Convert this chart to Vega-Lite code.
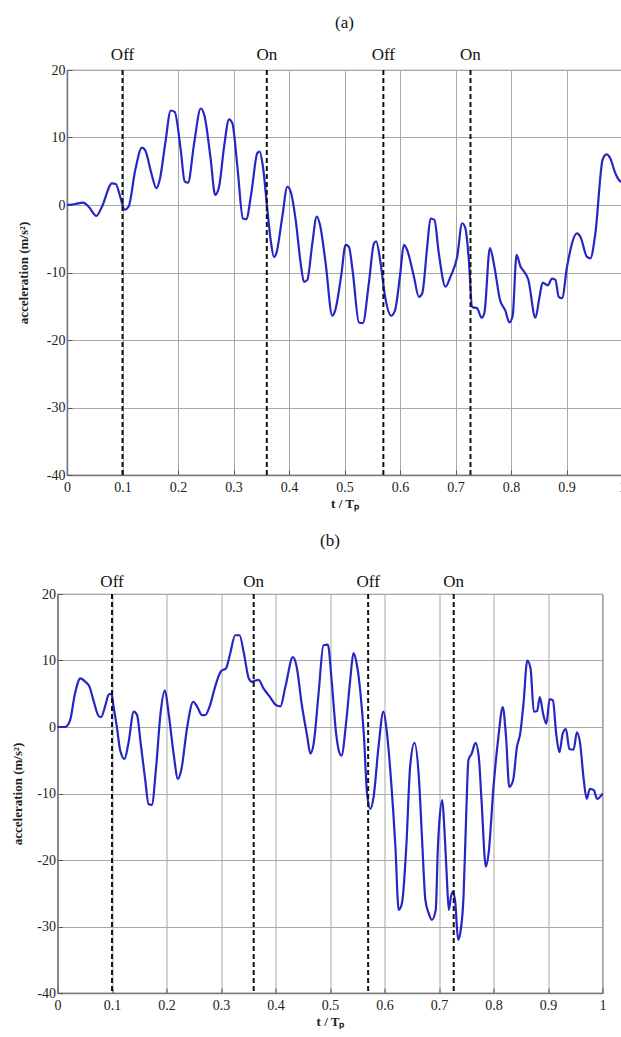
{
  "$schema": "https://vega.github.io/schema/vega-lite/v6.json",
  "padding": {"left": 10.5, "top": 13, "right": 0, "bottom": 0},
  "spacing": 20,
  "background": "white",
  "config": {
    "view": {"stroke": "#888", "strokeWidth": 1.2},
    "axis": {
      "labelFont": "Liberation Serif", "labelFontSize": 14, "labelColor": "#222",
      "titleFont": "Liberation Serif", "titleFontSize": 13, "titleFontWeight": "bold", "titleColor": "#222",
      "ticks": true, "tickSize": -5, "tickColor": "#555", "tickWidth": 1,
      "domainColor": "#7a7a7a", "domainWidth": 1.5,
      "gridColor": "#a8a8a8", "gridWidth": 1, "gridOpacity": 1,
      "labelFlush": false, "labelOverlap": false, "labelBound": false
    },
    "axisX": {"labelPadding": 10, "titlePadding": 3},
    "axisY": {"labelPadding": 7},
    "title": {"font": "Liberation Serif", "fontSize": 17, "fontWeight": "normal", "color": "#111"}
  },
  "datasets": {
    "switch": [
      {"t": 0.1, "label": "Off"}, {"t": 0.36, "label": "On"}, {"t": 0.57, "label": "Off"}, {"t": 0.727, "label": "On"}
    ],
    "none": [],
    "curve_a": [
      {"t":0,"a":0},{"t":0.015,"a":0.15},{"t":0.029,"a":0.35},{"t":0.039,"a":-0.25},{"t":0.053,"a":-1.6},{"t":0.063,"a":-0.25},
      {"t":0.081,"a":3.2},{"t":0.088,"a":3.1},{"t":0.096,"a":1.2},{"t":0.104,"a":-0.7},{"t":0.111,"a":-0.25},{"t":0.123,"a":5.2},
      {"t":0.135,"a":8.5},{"t":0.141,"a":8.1},{"t":0.152,"a":4.7},{"t":0.161,"a":2.5},{"t":0.167,"a":3.7},{"t":0.177,"a":9.1},
      {"t":0.187,"a":14.0},{"t":0.194,"a":13.8},{"t":0.205,"a":8.1},{"t":0.212,"a":3.5},{"t":0.218,"a":3.3},{"t":0.229,"a":9.1},
      {"t":0.241,"a":14.3},{"t":0.248,"a":13.1},{"t":0.259,"a":6.7},{"t":0.267,"a":1.5},{"t":0.274,"a":2.7},{"t":0.283,"a":8.6},
      {"t":0.292,"a":12.7},{"t":0.298,"a":12.1},{"t":0.307,"a":5.7},{"t":0.317,"a":-2.0},{"t":0.323,"a":-2.1},{"t":0.332,"a":1.7},
      {"t":0.343,"a":7.7},{"t":0.347,"a":7.9},{"t":0.353,"a":5.7},{"t":0.361,"a":-0.7},{"t":0.367,"a":-5.2},{"t":0.373,"a":-7.7},
      {"t":0.377,"a":-7.2},{"t":0.388,"a":-1.7},{"t":0.397,"a":2.7},{"t":0.403,"a":2.0},{"t":0.412,"a":-2.2},{"t":0.421,"a":-8.6},
      {"t":0.427,"a":-11.4},{"t":0.433,"a":-11.1},{"t":0.442,"a":-5.7},{"t":0.450,"a":-1.7},{"t":0.456,"a":-3.0},{"t":0.466,"a":-8.6},
      {"t":0.478,"a":-16.4},{"t":0.483,"a":-15.7},{"t":0.494,"a":-10.5},{"t":0.502,"a":-5.9},{"t":0.508,"a":-6.2},{"t":0.515,"a":-10},
      {"t":0.526,"a":-17.4},{"t":0.533,"a":-17.5},{"t":0.544,"a":-11.5},{"t":0.553,"a":-5.7},{"t":0.557,"a":-5.4},{"t":0.565,"a":-8.6},
      {"t":0.573,"a":-13.5},{"t":0.584,"a":-16.4},{"t":0.591,"a":-15.6},{"t":0.600,"a":-10.5},{"t":0.607,"a":-5.9},{"t":0.613,"a":-6.7},
      {"t":0.625,"a":-10.6},{"t":0.634,"a":-13.6},{"t":0.640,"a":-13.1},{"t":0.649,"a":-6.2},{"t":0.655,"a":-2.0},{"t":0.662,"a":-2.2},
      {"t":0.670,"a":-7.2},{"t":0.682,"a":-12.1},{"t":0.691,"a":-10.6},{"t":0.703,"a":-7.7},{"t":0.712,"a":-2.7},{"t":0.718,"a":-3.5},
      {"t":0.724,"a":-8.1},{"t":0.730,"a":-15.1},{"t":0.739,"a":-15.3},{"t":0.747,"a":-16.7},{"t":0.752,"a":-16.0},{"t":0.762,"a":-6.4},
      {"t":0.770,"a":-9.1},{"t":0.780,"a":-14.0},{"t":0.790,"a":-15.7},{"t":0.797,"a":-17.4},{"t":0.803,"a":-16.4},{"t":0.810,"a":-7.4},
      {"t":0.817,"a":-9.1},{"t":0.823,"a":-9.8},{"t":0.831,"a":-11},{"t":0.844,"a":-16.7},{"t":0.851,"a":-13.8},{"t":0.857,"a":-11.5},
      {"t":0.866,"a":-11.9},{"t":0.874,"a":-10.9},{"t":0.880,"a":-11.1},{"t":0.886,"a":-13.6},{"t":0.892,"a":-13.8},{"t":0.901,"a":-9.1},
      {"t":0.919,"a":-4.2},{"t":0.925,"a":-4.7},{"t":0.937,"a":-7.7},{"t":0.943,"a":-7.9},{"t":0.952,"a":-4.2},{"t":0.965,"a":6.7},
      {"t":0.972,"a":7.5},{"t":0.979,"a":6.9},{"t":0.988,"a":4.7},{"t":0.997,"a":3.5},{"t":1.0,"a":3.4}
    ],
    "curve_b": [
      {"t":0,"a":0},{"t":0.014,"a":0},{"t":0.023,"a":1.0},{"t":0.032,"a":5.0},{"t":0.042,"a":7.3},{"t":0.051,"a":6.8},
      {"t":0.059,"a":6.0},{"t":0.066,"a":4.0},{"t":0.076,"a":1.6},{"t":0.080,"a":1.5},{"t":0.088,"a":3.3},{"t":0.094,"a":4.9},
      {"t":0.099,"a":5.0},{"t":0.103,"a":3.0},{"t":0.109,"a":0},{"t":0.115,"a":-3.5},{"t":0.123,"a":-4.8},{"t":0.130,"a":-2.5},
      {"t":0.140,"a":2.3},{"t":0.146,"a":1.8},{"t":0.152,"a":-2.0},{"t":0.161,"a":-8.0},{"t":0.167,"a":-11.6},{"t":0.173,"a":-11.7},
      {"t":0.181,"a":-6.0},{"t":0.189,"a":2.0},{"t":0.197,"a":5.5},{"t":0.204,"a":2.0},{"t":0.213,"a":-4.0},{"t":0.221,"a":-7.8},
      {"t":0.227,"a":-6.5},{"t":0.238,"a":0},{"t":0.249,"a":3.8},{"t":0.256,"a":3.1},{"t":0.265,"a":1.8},{"t":0.271,"a":1.8},
      {"t":0.280,"a":3.3},{"t":0.289,"a":6.0},{"t":0.300,"a":8.4},{"t":0.309,"a":8.8},{"t":0.317,"a":11.1},{"t":0.326,"a":13.8},
      {"t":0.334,"a":13.8},{"t":0.342,"a":11.1},{"t":0.351,"a":7.3},{"t":0.357,"a":6.8},{"t":0.363,"a":7.0},{"t":0.369,"a":7.1},
      {"t":0.378,"a":5.8},{"t":0.390,"a":4.5},{"t":0.401,"a":3.3},{"t":0.409,"a":3.1},{"t":0.418,"a":6.0},{"t":0.432,"a":10.5},
      {"t":0.439,"a":9.0},{"t":0.448,"a":3.5},{"t":0.458,"a":-1.3},{"t":0.464,"a":-4.0},{"t":0.470,"a":-2.5},{"t":0.479,"a":5.0},
      {"t":0.488,"a":12.3},{"t":0.496,"a":12.4},{"t":0.503,"a":7.0},{"t":0.511,"a":-0.8},{"t":0.517,"a":-3.8},{"t":0.521,"a":-4.3},
      {"t":0.530,"a":1.0},{"t":0.537,"a":7.0},{"t":0.543,"a":11.1},{"t":0.549,"a":9.5},{"t":0.556,"a":5.0},{"t":0.562,"a":-1.0},
      {"t":0.568,"a":-10},{"t":0.574,"a":-12.3},{"t":0.580,"a":-10.5},{"t":0.589,"a":-3},{"t":0.598,"a":2.3},{"t":0.604,"a":-0.5},
      {"t":0.612,"a":-8},{"t":0.620,"a":-18},{"t":0.626,"a":-27.5},{"t":0.632,"a":-26.5},{"t":0.640,"a":-18},{"t":0.647,"a":-6},
      {"t":0.655,"a":-2.4},{"t":0.663,"a":-7.5},{"t":0.669,"a":-17},{"t":0.675,"a":-26},{"t":0.681,"a":-28},{"t":0.687,"a":-29},
      {"t":0.694,"a":-27.5},{"t":0.698,"a":-18},{"t":0.700,"a":-15},{"t":0.706,"a":-11},{"t":0.710,"a":-15.5},{"t":0.714,"a":-22},
      {"t":0.718,"a":-27.5},{"t":0.722,"a":-25.5},{"t":0.726,"a":-24.8},{"t":0.730,"a":-26.5},{"t":0.735,"a":-32},{"t":0.739,"a":-31},
      {"t":0.745,"a":-25.5},{"t":0.750,"a":-13},{"t":0.754,"a":-5},{"t":0.760,"a":-4},{"t":0.767,"a":-2.4},{"t":0.773,"a":-4.5},
      {"t":0.778,"a":-11},{"t":0.786,"a":-21},{"t":0.791,"a":-19},{"t":0.800,"a":-9},{"t":0.809,"a":-1.5},{"t":0.817,"a":3.0},
      {"t":0.823,"a":-1.5},{"t":0.829,"a":-9},{"t":0.836,"a":-8},{"t":0.843,"a":-3},{"t":0.849,"a":-1},{"t":0.855,"a":3.5},
      {"t":0.862,"a":10},{"t":0.868,"a":8.8},{"t":0.874,"a":2.3},{"t":0.880,"a":2.4},{"t":0.885,"a":4.5},{"t":0.891,"a":2.0},
      {"t":0.897,"a":0.5},{"t":0.903,"a":4.2},{"t":0.909,"a":4.0},{"t":0.915,"a":-1},{"t":0.921,"a":-3.8},{"t":0.927,"a":-1},
      {"t":0.933,"a":-0.3},{"t":0.939,"a":-3.3},{"t":0.947,"a":-3.4},{"t":0.953,"a":-0.8},{"t":0.959,"a":-2.5},{"t":0.965,"a":-7.5},
      {"t":0.971,"a":-10.8},{"t":0.977,"a":-9.3},{"t":0.984,"a":-9.5},{"t":0.990,"a":-10.8},{"t":1.0,"a":-10}
    ]
  },
  "vconcat": [
    {
      "spacing": -41.5,
      "hconcat": [
        {
          "width": 1, "height": 1,
          "view": {"stroke": null},
          "data": {"name": "none"},
          "mark": {"type": "point", "opacity": 0},
          "encoding": {}
        },
        {
          "width": 555, "height": 405,
          "title": {"text": "(a)", "offset": 14},
          "layer": [
            {
              "data": {"name": "curve_a"},
              "mark": {"type": "line", "color": "#2626c4", "strokeWidth": 2.2, "interpolate": "monotone"},
              "encoding": {
                "x": {"field": "t", "type": "quantitative", "scale": {"domain": [0, 1], "nice": false},
                      "axis": {"title": "t / Tₚ", "values": [0,0.1,0.2,0.3,0.4,0.5,0.6,0.7,0.8,0.9,1], "labelExpr": "format(datum.value, '~g')"}},
                "y": {"field": "a", "type": "quantitative", "scale": {"domain": [-40, 20], "nice": false},
                      "axis": {"title": "acceleration (m/s²)", "values": [-40,-30,-20,-10,0,10,20], "labelExpr": "'' + datum.value", "titlePadding": 15.5}}
              }
            },
            {
              "data": {"name": "switch"},
              "mark": {"type": "rule", "strokeDash": [5, 3], "strokeWidth": 2, "color": "#111"},
              "encoding": {"x": {"field": "t", "type": "quantitative"}}
            },
            {
              "data": {"name": "switch"},
              "mark": {"type": "text", "font": "Liberation Serif", "fontSize": 17, "baseline": "bottom", "dy": -6, "color": "#111"},
              "encoding": {"x": {"field": "t", "type": "quantitative"}, "y": {"datum": 20}, "text": {"field": "label"}}
            }
          ]
        }
      ]
    },
    {
      "width": 545, "height": 399,
      "title": {"text": "(b)", "offset": 23},
      "layer": [
        {
          "data": {"name": "curve_b"},
          "mark": {"type": "line", "color": "#2626c4", "strokeWidth": 2.2, "interpolate": "monotone"},
          "encoding": {
            "x": {"field": "t", "type": "quantitative", "scale": {"domain": [0, 1], "nice": false},
                  "axis": {"title": "t / Tₚ", "values": [0,0.1,0.2,0.3,0.4,0.5,0.6,0.7,0.8,0.9,1], "labelExpr": "format(datum.value, '~g')"}},
            "y": {"field": "a", "type": "quantitative", "scale": {"domain": [-40, 20], "nice": false},
                  "axis": {"title": "acceleration (m/s²)", "values": [-40,-30,-20,-10,0,10,20], "labelExpr": "'' + datum.value", "titlePadding": 12}}
          }
        },
        {
          "data": {"name": "switch"},
          "mark": {"type": "rule", "strokeDash": [5, 3], "strokeWidth": 2, "color": "#111"},
          "encoding": {"x": {"field": "t", "type": "quantitative"}}
        },
        {
          "data": {"name": "switch"},
          "mark": {"type": "text", "font": "Liberation Serif", "fontSize": 17, "baseline": "bottom", "dy": -3, "color": "#111"},
          "encoding": {"x": {"field": "t", "type": "quantitative"}, "y": {"datum": 20}, "text": {"field": "label"}}
        }
      ]
    }
  ]
}
